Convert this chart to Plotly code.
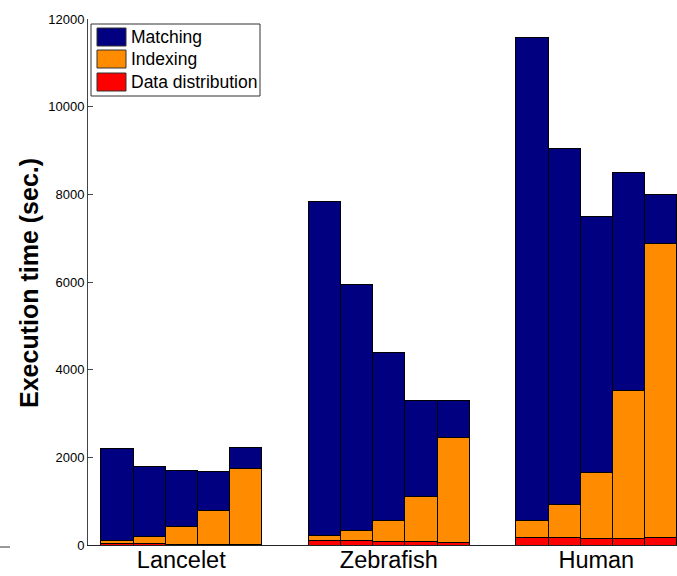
import plotly.graph_objects as go

# ---------------- data ----------------
datasets = ["Lancelet", "Zebrafish", "Human"]
series_names = ["Matching", "Indexing", "Data distribution"]

# per group, 5 bars each (values in seconds)
data_distribution = {
    "Lancelet": [45, 45, 20, 15, 10],
    "Zebrafish": [114, 114, 91, 76, 61],
    "Human": [175, 175, 152, 137, 175],
}
indexing = {
    "Lancelet": [55, 145, 397, 766, 1736],
    "Zebrafish": [98, 212, 478, 1040, 2391],
    "Human": [380, 744, 1497, 3391, 6712],
}
matching = {
    "Lancelet": [2100, 1603, 1283, 888, 485],
    "Zebrafish": [7633, 5611, 3825, 2185, 849],
    "Human": [11023, 8128, 5854, 4972, 1111],
}

colors = {"Matching": "#000080", "Indexing": "#FF8C00", "Data distribution": "#FF0000"}

# ---------------- layout constants ----------------
W, H = 677, 576
L, R, T, B = 88, 0, 19, 31
PW, PH = W - L - R, H - T - B
BAR_W = 0.155
N_BARS = 5

def px2paper_x(px):
    return (px - L) / PW

def px2paper_y(py):
    return (H - B - py) / PH

xs, red, orange, navy = [], [], [], []
for gi, name in enumerate(datasets):
    for k in range(N_BARS):
        xs.append(gi + 1 + (k - (N_BARS - 1) / 2) * BAR_W)
        red.append(data_distribution[name][k])
        orange.append(indexing[name][k])
        navy.append(matching[name][k])

fig = go.Figure()
line = dict(color="black", width=1)
fig.add_trace(go.Bar(x=xs, y=red, width=BAR_W, name="Data distribution",
                     marker=dict(color=colors["Data distribution"], line=line)))
fig.add_trace(go.Bar(x=xs, y=orange, width=BAR_W, name="Indexing",
                     marker=dict(color=colors["Indexing"], line=line)))
fig.add_trace(go.Bar(x=xs, y=navy, width=BAR_W, name="Matching",
                     marker=dict(color=colors["Matching"], line=line)))

font_family = "Liberation Sans, Arial, Helvetica, sans-serif"

fig.update_layout(
    width=W, height=H,
    margin=dict(l=L, r=R, t=T, b=B, pad=0, autoexpand=False),
    barmode="stack",
    showlegend=False,
    plot_bgcolor="white",
    paper_bgcolor="white",
    font=dict(family=font_family, color="black"),
    xaxis=dict(
        range=[0.5504, 3.389],
        tickvals=[1, 2, 3],
        ticktext=datasets,
        tickfont=dict(size=23.5, color="black"),
        ticklabelstandoff=-6,
        showline=True, linecolor="#222", linewidth=1,
        ticks="", showgrid=False, zeroline=False,
        automargin=False,
    ),
    yaxis=dict(
        range=[0, 12000],
        tickvals=[0, 2000, 4000, 6000, 8000, 10000, 12000],
        ticktext=["0", "2000", "4000", "6000", "8000", "10000", "12000"],
        tickfont=dict(size=13, color="black"),
        showline=True, linecolor="#444", linewidth=1,
        ticks="inside", ticklen=5, tickcolor="#444",
        showgrid=False, zeroline=False,
        automargin=False,
    ),
)

# y-axis title
fig.add_annotation(
    text="<b>Execution time (sec.)</b>", textangle=-90,
    xref="paper", yref="paper",
    x=px2paper_x(29), y=px2paper_y(283),
    xanchor="center", yanchor="middle",
    showarrow=False, font=dict(size=25, family=font_family, color="black"),
)

# manual legend (MATLAB style)
fig.add_shape(type="rect", xref="paper", yref="paper",
              x0=px2paper_x(91), x1=px2paper_x(260),
              y0=px2paper_y(96), y1=px2paper_y(24),
              line=dict(color="#333", width=1), fillcolor="white", layer="above")
legend_rows = [("Matching", 28, 46), ("Indexing", 50, 68), ("Data distribution", 73, 91)]
for nm, y0, y1 in legend_rows:
    fig.add_shape(type="rect", xref="paper", yref="paper",
                  x0=px2paper_x(97), x1=px2paper_x(126),
                  y0=px2paper_y(y1), y1=px2paper_y(y0),
                  line=dict(color="#333", width=1), fillcolor=colors[nm], layer="above")
    fig.add_annotation(text=nm, xref="paper", yref="paper",
                       x=px2paper_x(129), y=px2paper_y((y0 + y1) / 2),
                       xanchor="left", yanchor="middle", showarrow=False,
                       font=dict(size=17.5, family=font_family, color="black"))

# small stray tick at far left bottom
fig.add_shape(type="line", xref="paper", yref="paper",
              x0=px2paper_x(0), x1=px2paper_x(10),
              y0=px2paper_y(547), y1=px2paper_y(547),
              line=dict(color="#333", width=1))

fig.write_html(
    "out.html",
    config={"displayModeBar": False},
    post_script="document.body.style.margin='0';document.body.style.overflow='hidden';",
)
